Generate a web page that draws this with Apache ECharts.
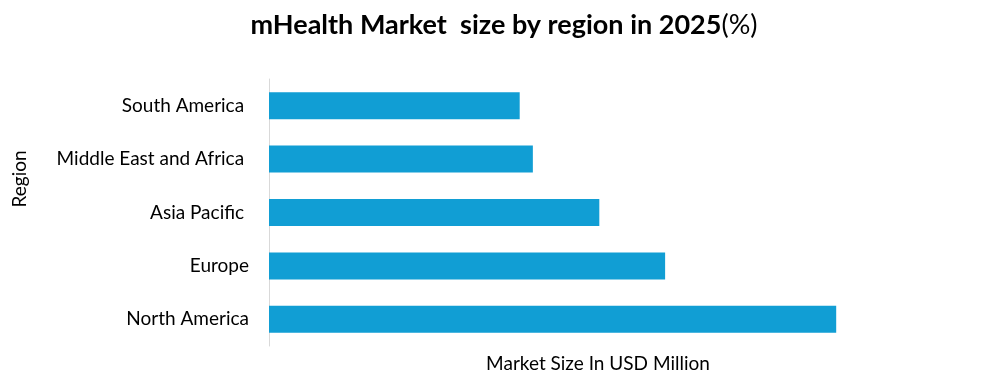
<!DOCTYPE html>
<html><head><meta charset="utf-8">
<script src="https://cdn.jsdelivr.net/npm/echarts@6/dist/echarts.min.js"></script>
<style>html,body{margin:0;padding:0;background:#fff}#c{width:1008px;height:383px}</style>
</head><body><div id="c"></div>
<script>
const categories = ["North America", "Europe", "Asia Pacific ", "Middle East and Africa ", "South America "];
const values = [86.2, 60.2, 50.2, 40.1, 38.1];
const titleMain = "mHealth Market  size by region in 2025";
const titleSuffix = "(%)";
const xName = "Market Size In USD Million";
const yName = "Region";

const font = "Lato, 'Open Sans', sans-serif";
const chart = echarts.init(document.getElementById('c'), null, {renderer: 'canvas'});
chart.setOption({
  animation: false,
  title: {
    text: '{b|' + titleMain + '}{n|' + titleSuffix + '}',
    left: 'center', top: 7,
    textStyle: {
      rich: {
        b: {fontFamily: font, fontWeight: 'bold', fontSize: 27, color: '#000'},
        n: {fontFamily: font, fontWeight: 'normal', fontSize: 27, color: '#000'}
      }
    }
  },
  graphic: [{
    type: 'text', x: 20, y: 179, rotation: Math.PI / 2,
    style: {text: yName, fontFamily: font, fontSize: 19, fill: '#000', align: 'center', verticalAlign: 'middle'}
  }],
  grid: {left: 269, right: 81, top: 79, bottom: 37, containLabel: false, outerBoundsMode: 'none'},
  xAxis: {
    type: 'value', min: 0, max: 100,
    axisLabel: {show: false}, splitLine: {show: false}, axisLine: {show: false}, axisTick: {show: false},
    name: xName, nameLocation: 'middle', nameGap: 8,
    nameTextStyle: {fontFamily: font, fontSize: 19, color: '#000', verticalAlign: 'top'}
  },
  yAxis: {
    type: 'category', data: categories,
    axisLine: {show: true, lineStyle: {color: '#d9d9d9', width: 1}},
    axisTick: {show: false},
    axisLabel: {fontFamily: font, fontSize: 19, color: '#000', margin: 20}
  },
  series: [{
    type: 'bar', data: values, barWidth: 27,
    itemStyle: {color: '#119ed4'}
  }]
});
</script></body></html>
